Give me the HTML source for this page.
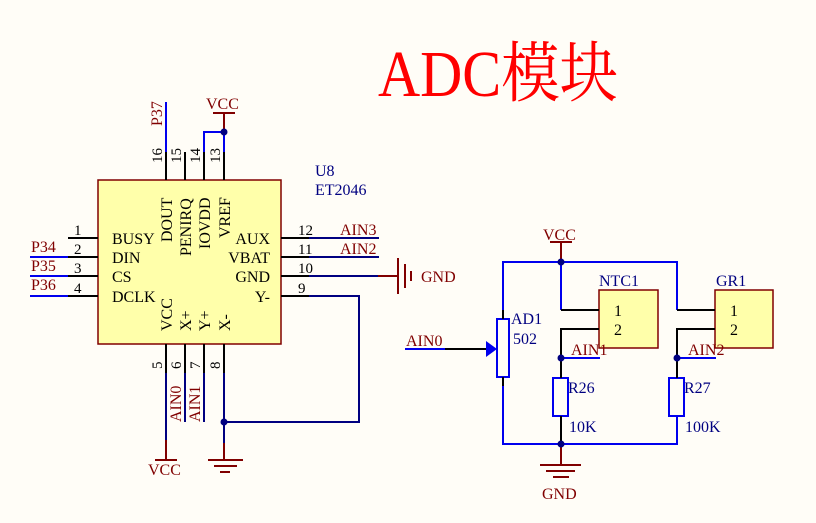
<!DOCTYPE html>
<html><head><meta charset="utf-8"><style>
html,body{margin:0;padding:0;background:#fffdf7;}
svg{display:block}
text{font-family:"Liberation Serif","Noto Serif CJK SC",serif;}
</style></head><body>
<svg width="816" height="523" viewBox="0 0 816 523" xmlns="http://www.w3.org/2000/svg">
<rect width="816" height="523" fill="#fffdf7"/>
<text x="378" y="96" font-size="66" fill="#ff0000" textLength="240" lengthAdjust="spacingAndGlyphs">ADC模块</text>

<rect x="98" y="180" width="183" height="164" fill="#ffffaa" stroke="#800000" stroke-width="1.5"/>
<rect x="599" y="290" width="59" height="58" fill="#ffffaa" stroke="#800000" stroke-width="1.5"/>
<rect x="715" y="290" width="58" height="58" fill="#ffffaa" stroke="#800000" stroke-width="1.5"/>
<g stroke="#000" stroke-width="2" fill="none">
<line x1="166" y1="180" x2="166" y2="152"/><line x1="185" y1="180" x2="185" y2="152"/>
<line x1="204" y1="180" x2="204" y2="152"/><line x1="224" y1="180" x2="224" y2="152"/>
<line x1="68" y1="238" x2="98" y2="238"/><line x1="68" y1="257" x2="98" y2="257"/>
<line x1="68" y1="276" x2="98" y2="276"/><line x1="68" y1="296" x2="98" y2="296"/>
<line x1="281" y1="238" x2="309" y2="238"/><line x1="281" y1="257" x2="309" y2="257"/>
<line x1="281" y1="276" x2="309" y2="276"/><line x1="281" y1="296" x2="309" y2="296"/>
<line x1="166" y1="344" x2="166" y2="373"/><line x1="185" y1="344" x2="185" y2="373"/>
<line x1="204" y1="344" x2="204" y2="373"/><line x1="224" y1="344" x2="224" y2="373"/>
</g>
<g stroke="#0000ee" stroke-width="2" fill="none">
<line x1="166" y1="152" x2="166" y2="102"/>
<polyline points="204,152 204,132 224,132 224,152"/>
<line x1="30" y1="257" x2="68" y2="257"/><line x1="30" y1="276" x2="68" y2="276"/><line x1="30" y1="296" x2="68" y2="296"/>
</g>
<g stroke="#000080" stroke-width="2" fill="none">
<line x1="309" y1="238" x2="379" y2="238"/><line x1="309" y1="257" x2="379" y2="257"/>
<line x1="309" y1="276" x2="378" y2="276"/>
<polyline points="309,296 359,296 359,422 224,422"/>
<line x1="166" y1="373" x2="166" y2="440"/><line x1="185" y1="373" x2="185" y2="422"/>
<line x1="204" y1="373" x2="204" y2="422"/><line x1="224" y1="373" x2="224" y2="443"/>
</g>
<g stroke="#800000" stroke-width="2" fill="none">
<line x1="224" y1="132" x2="224" y2="113"/><line x1="213" y1="113" x2="235" y2="113"/>
<line x1="378" y1="276" x2="398" y2="276"/><line x1="398" y1="258" x2="398" y2="294"/>
<line x1="405" y1="264" x2="405" y2="288"/><line x1="411" y1="271" x2="411" y2="281"/>
<line x1="166" y1="440" x2="166" y2="460"/><line x1="155" y1="460" x2="177" y2="460"/>
<line x1="224" y1="443" x2="224" y2="460"/><line x1="208" y1="460" x2="243" y2="460"/>
<line x1="214" y1="466" x2="237" y2="466"/><line x1="220" y1="472" x2="230" y2="472"/>
</g>
<g fill="#000080"><circle cx="224" cy="132" r="3.5"/><circle cx="224" cy="422" r="3.5"/></g>

<g font-size="16" fill="#000">
<text x="112" y="244">BUSY</text><text x="112" y="263">DIN</text><text x="112" y="282">CS</text><text x="112" y="302">DCLK</text>
<text x="270" y="244" text-anchor="end">AUX</text><text x="270" y="263" text-anchor="end">VBAT</text>
<text x="270" y="282" text-anchor="end">GND</text><text x="270" y="302" text-anchor="end">Y-</text>
<text transform="translate(172,242) rotate(-90)">DOUT</text>
<text transform="translate(191,256) rotate(-90)">PENIRQ</text>
<text transform="translate(210,249) rotate(-90)">IOVDD</text>
<text transform="translate(230,238) rotate(-90)">VREF</text>
<text transform="translate(172,331) rotate(-90)">VCC</text>
<text transform="translate(191,331) rotate(-90)">X+</text>
<text transform="translate(210,331) rotate(-90)">Y+</text>
<text transform="translate(230,331) rotate(-90)">X-</text>
<g font-size="15">
<text x="74" y="235">1</text><text x="74" y="254">2</text><text x="74" y="273">3</text><text x="74" y="293">4</text>
<text x="298" y="235">12</text><text x="298" y="254">11</text><text x="298" y="273">10</text><text x="298" y="293">9</text>
<text transform="translate(162,163) rotate(-90)">16</text><text transform="translate(181,163) rotate(-90)">15</text>
<text transform="translate(200,163) rotate(-90)">14</text><text transform="translate(220,163) rotate(-90)">13</text>
<text transform="translate(162,369) rotate(-90)">5</text><text transform="translate(181,369) rotate(-90)">6</text>
<text transform="translate(200,369) rotate(-90)">7</text><text transform="translate(220,369) rotate(-90)">8</text>
</g>
<text x="614" y="316">1</text><text x="614" y="335">2</text>
<text x="730" y="316">1</text><text x="730" y="335">2</text>
</g>
<g font-size="16" fill="#800000">
<text x="206" y="109">VCC</text>
<text x="31" y="252">P34</text><text x="31" y="271">P35</text><text x="31" y="290">P36</text>
<text transform="translate(162,126) rotate(-90)">P37</text>
<text x="340" y="235">AIN3</text><text x="340" y="254">AIN2</text>
<text x="421" y="282">GND</text>
<text transform="translate(181,422) rotate(-90)">AIN0</text>
<text transform="translate(200,422) rotate(-90)">AIN1</text>
<text x="148" y="475">VCC</text>
<text x="406" y="346">AIN0</text>
<text x="543" y="240">VCC</text>
<text x="542" y="499">GND</text>
<text x="571" y="355">AIN1</text>
<text x="688" y="355">AIN2</text>
</g>
<g font-size="16" fill="#000080">
<text x="315" y="176">U8</text><text x="315" y="195">ET2046</text>
<text x="511" y="324">AD1</text><text x="513" y="344">502</text>
<text x="599" y="286">NTC1</text><text x="716" y="286">GR1</text>
<text x="568" y="393">R26</text><text x="684" y="393">R27</text>
<text x="569" y="432">10K</text><text x="685" y="432">100K</text>
</g>

<g stroke="#0000ee" stroke-width="2" fill="none">
<polyline points="503,310 503,262 677,262 677,310"/>
<line x1="561" y1="262" x2="561" y2="310"/>
<polyline points="503,386 503,444 677,444 677,416"/>
<line x1="405" y1="349" x2="445" y2="349"/>
<line x1="561" y1="358" x2="600" y2="358"/><line x1="677" y1="358" x2="716" y2="358"/>
<rect x="497" y="319" width="12" height="58"/>
<rect x="553" y="378" width="15" height="38"/><rect x="669" y="378" width="15" height="38"/>
</g>
<polygon points="486,341 497,349 486,357" fill="#0000ee"/>
<g stroke="#000" stroke-width="2" fill="none">
<line x1="445" y1="349" x2="486" y2="349"/>
<line x1="503" y1="310" x2="503" y2="319"/><line x1="503" y1="377" x2="503" y2="386"/>
<polyline points="561,310 599,310"/><polyline points="599,329 561,329 561,358"/>
<polyline points="677,310 715,310"/><polyline points="715,329 677,329 677,358"/>
<line x1="561" y1="358" x2="561" y2="378"/><line x1="561" y1="416" x2="561" y2="444"/>
<line x1="677" y1="358" x2="677" y2="378"/>
</g>
<g stroke="#800000" stroke-width="2" fill="none">
<line x1="561" y1="262" x2="561" y2="242"/><line x1="550" y1="242" x2="572" y2="242"/>
<line x1="561" y1="444" x2="561" y2="465"/><line x1="540" y1="465" x2="581" y2="465"/>
<line x1="546" y1="471" x2="575" y2="471"/><line x1="553" y1="477" x2="569" y2="477"/>
</g>
<g fill="#000080">
<circle cx="561" cy="262" r="3.5"/><circle cx="561" cy="444" r="3.5"/>
<circle cx="561" cy="358" r="3.5"/><circle cx="677" cy="358" r="3.5"/>
</g>
</svg>
</body></html>
